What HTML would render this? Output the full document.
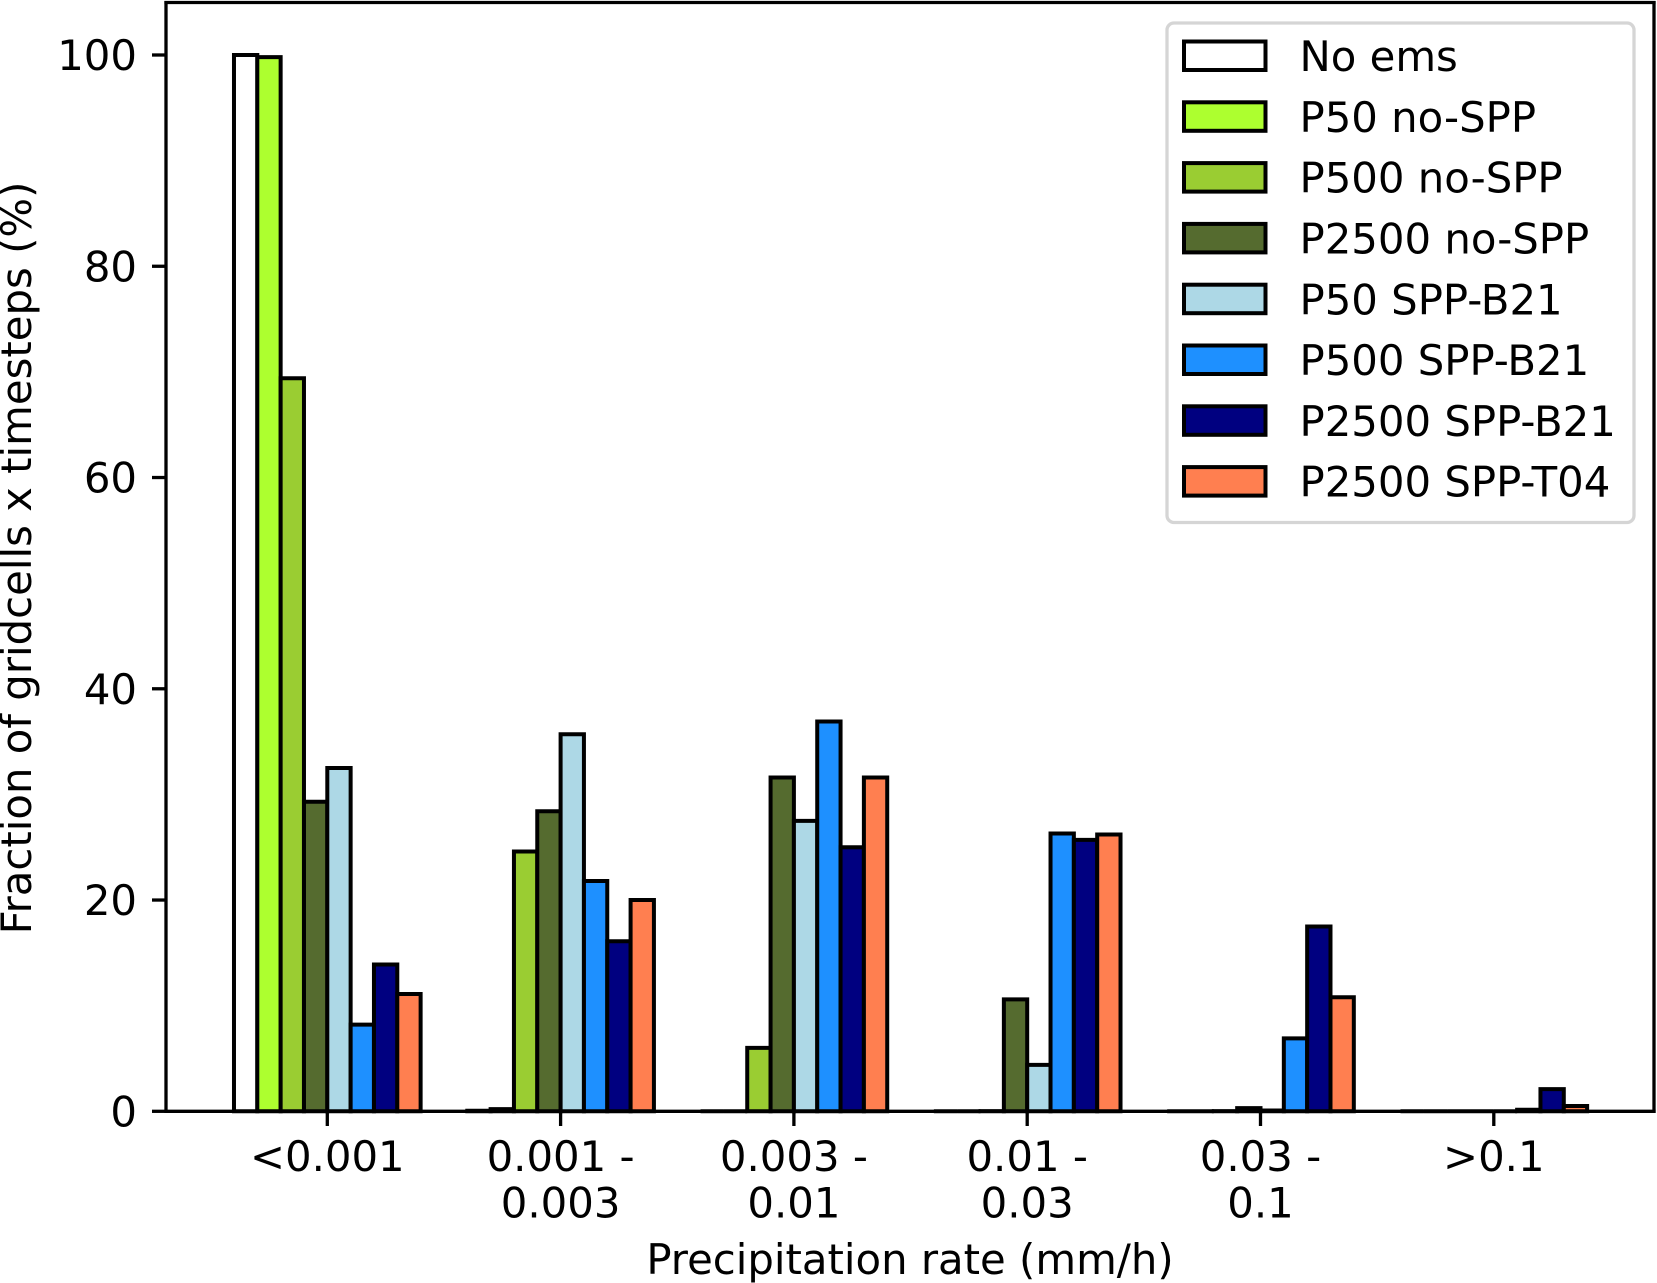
<!DOCTYPE html>
<html>
<head>
<meta charset="utf-8">
<title>Precipitation rate distribution</title>
<style>
html,body{margin:0;padding:0;background:#fff;}
svg{display:block;}
text{font-family:"DejaVu Sans","Liberation Sans",sans-serif;font-size:41.8px;fill:#000;}
</style>
</head>
<body>
<svg id="chart" xmlns="http://www.w3.org/2000/svg" width="1657" height="1283" viewBox="0 0 1657 1283">
  <rect x="0" y="0" width="1657" height="1283" fill="#fff"/>
  <g id="bars"></g>
  <g id="y-axis"></g>
  <g id="x-axis"></g>
  <g fill="none" stroke="#000" stroke-width="3.3">
    <line x1="166" y1="1" x2="166" y2="1113"/>
    <line x1="1654" y1="1" x2="1654" y2="1113"/>
    <line x1="164.4" y1="2.5" x2="1655.6" y2="2.5"/>
    <line x1="164.4" y1="1111.3" x2="1655.6" y2="1111.3"/>
  </g>
  <text text-anchor="middle" transform="translate(31,558) rotate(-90)">Fraction of gridcells x timesteps (%)</text>
  <text text-anchor="middle" x="910" y="1274">Precipitation rate (mm/h)</text>
  <g>
    <rect x="1167" y="23" width="467" height="499.5" rx="7" ry="7" fill="#fff" fill-opacity="0.8" stroke="#d5d5d5" stroke-width="3.3"/>
    <g id="legend-entries"></g>
  </g>
</svg>
<script>
// Chart data
const categories = ["<0.001", "0.001 -\n0.003", "0.003 -\n0.01", "0.01 -\n0.03", "0.03 -\n0.1", ">0.1"];
const yTicks = [0, 20, 40, 60, 80, 100];
const seriesNames = ["No ems", "P50 no-SPP", "P500 no-SPP", "P2500 no-SPP", "P50 SPP-B21", "P500 SPP-B21", "P2500 SPP-B21", "P2500 SPP-T04"];
const seriesColors = ["#ffffff", "#adff2f", "#9acd32", "#556b2f", "#add8e6", "#1e90ff", "#000080", "#ff7f50"];
const noEms = [100, 0.05, 0, 0, 0, 0];
const p50NoSpp = [99.8, 0.2, 0, 0, 0, 0];
const p500NoSpp = [69.4, 24.6, 6, 0.02, 0.02, 0];
const p2500NoSpp = [29.3, 28.4, 31.6, 10.6, 0.3, 0];
const p50SppB21 = [32.5, 35.7, 27.5, 4.4, 0.08, 0];
const p500SppB21 = [8.2, 21.8, 36.9, 26.3, 6.9, 0.15];
const p2500SppB21 = [13.9, 16.1, 25, 25.7, 17.5, 2.1];
const p2500SppT04 = [11.1, 20, 31.6, 26.2, 10.8, 0.5];
const seriesValues = [noEms, p50NoSpp, p500NoSpp, p2500NoSpp, p50SppB21, p500SppB21, p2500SppB21, p2500SppT04];

// Axis functions
const SVG_NS = "http://www.w3.org/2000/svg";
const barWidth = 23.33;
function xScale(categoryIndex) {
  return 327.3 + categoryIndex * 233.3;
}
function yScale(value) {
  return 1111.3 - value * 10.563;
}
function make(tag, attrs, parent) {
  const el = document.createElementNS(SVG_NS, tag);
  for (const key in attrs) {
    el.setAttribute(key, attrs[key]);
  }
  parent.appendChild(el);
  return el;
}

// Bars (paths, so zero-height bars still draw their outline)
const barsGroup = document.getElementById("bars");
seriesValues.forEach(function (values, s) {
  values.forEach(function (value, c) {
    const left = xScale(c) + (s - 4) * barWidth;
    const right = left + barWidth;
    const top = yScale(value);
    const base = yScale(0);
    const bar = make("path", {
      d: "M" + left + " " + base + "L" + left + " " + top + "L" + right + " " + top + "L" + right + " " + base + "Z",
      fill: seriesColors[s],
      stroke: "#000",
      "stroke-width": 4,
      "stroke-linejoin": "miter"
    }, barsGroup);
    
    
  });
});

// Y axis
const yAxis = document.getElementById("y-axis");
yTicks.forEach(function (tick) {
  const y = yScale(tick);
  const mark = make("line", { x1: 152, x2: 166, y1: y, y2: y, stroke: "#000", "stroke-width": 3.3 }, yAxis);
  
  
  const label = make("text", { x: 137, y: y + 15, "text-anchor": "end" }, yAxis);
  
  
  label.textContent = String(tick);
});

// X axis
const xAxis = document.getElementById("x-axis");
categories.forEach(function (category, c) {
  const x = xScale(c);
  const mark = make("line", { x1: x, x2: x, y1: 1111.3, y2: 1126, stroke: "#000", "stroke-width": 3.3 }, xAxis);
  
  
  category.split("\n").forEach(function (line, n) {
    const label = make("text", { x: x, y: 1171 + n * 46.6, "text-anchor": "middle" }, xAxis);
    
    
    label.textContent = line;
  });
});

// Legend
const legendEntries = document.getElementById("legend-entries");
seriesNames.forEach(function (name, s) {
  const top = 41.5 + s * 60.8;
  const swatch = make("rect", { x: 1184, y: top, width: 81.5, height: 28.5, fill: seriesColors[s], stroke: "#000", "stroke-width": 4 }, legendEntries);
  
  
  const label = make("text", { x: 1299.5, y: top + 29.6 }, legendEntries);
  
  
  label.textContent = name;
});
</script>
</body>
</html>
